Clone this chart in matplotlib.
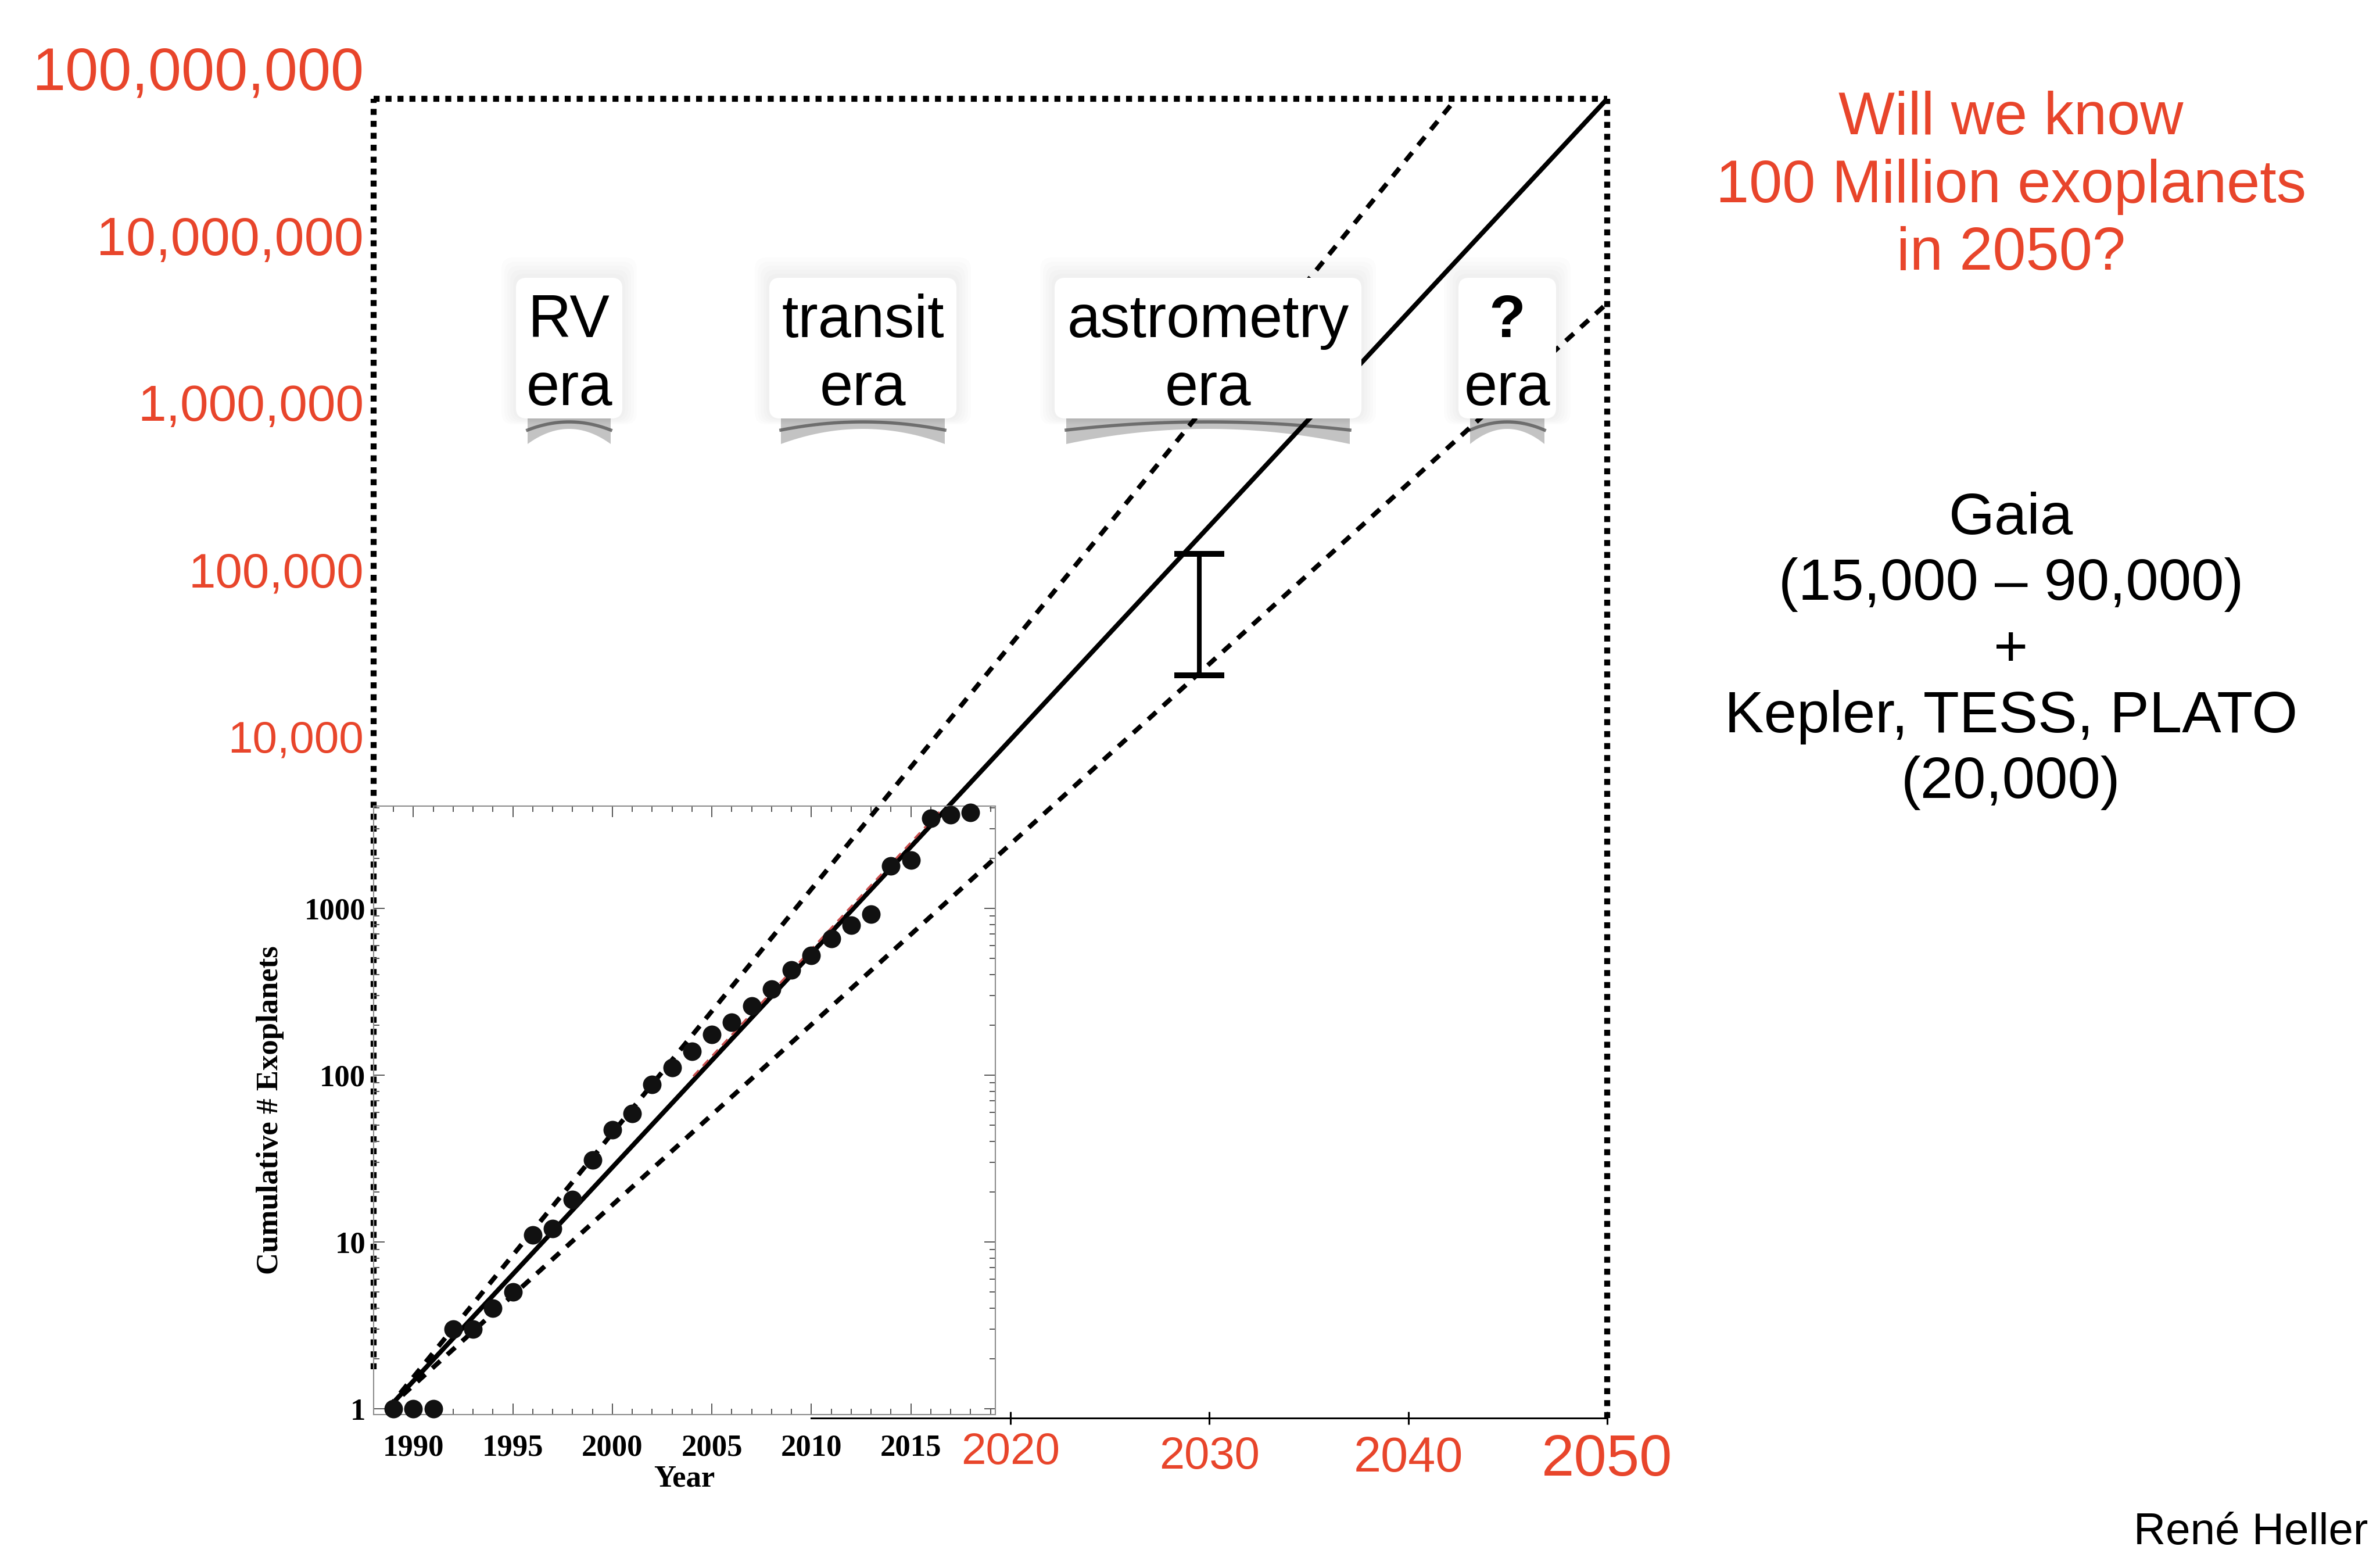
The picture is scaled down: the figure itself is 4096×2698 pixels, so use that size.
import numpy as np
import matplotlib
matplotlib.use("Agg")
import matplotlib.pyplot as plt
from matplotlib.patches import FancyBboxPatch, Polygon
from matplotlib.transforms import Affine2D, blended_transform_factory, Bbox, TransformedBbox
from matplotlib.ticker import FixedLocator, FixedFormatter, MultipleLocator, LogLocator, NullLocator, NullFormatter

# ---------------------------------------------------------------
# data
# ---------------------------------------------------------------
years = [1989, 1990, 1991, 1992, 1993, 1994, 1995, 1996, 1997, 1998,
         1999, 2000, 2001, 2002, 2003, 2004, 2005, 2006, 2007, 2008,
         2009, 2010, 2011, 2012, 2013, 2014, 2015, 2016, 2017, 2018]
counts = [1, 1, 1, 3, 3, 4, 5, 11, 12, 18,
          31, 47, 59, 88, 111, 139, 175, 207, 260, 328,
          426, 524, 657, 792, 923, 1800, 1950, 3460, 3630, 3750]

# trend lines (start / end points)
trend_years = [1988.7, 2050.0]
trend_mid = [1, 7.13e7]
trend_high_years = [1988.7, 2042.4]
trend_high = [1, 7.13e7]
trend_low = [1, 4.24e6]

# Gaia range marker
gaia_year = 2029.5
gaia_low = 25000
gaia_high = 133000

# main axis labels
y_label_values = [1e4, 1e5, 1e6, 1e7, 1e8]
y_label_texts = ["10,000", "100,000", "1,000,000", "10,000,000", "100,000,000"]
x_label_years = [2020, 2030, 2040, 2050]
x_label_texts = ["2020", "2030", "2040", "2050"]

# inset axis labels
inset_x_ticks = [1990, 1995, 2000, 2005, 2010, 2015]
inset_y_ticks = [1, 10, 100, 1000]
inset_y_texts = ["1", "10", "100", "1000"]

era_top = ["RV", "transit", "astrometry", "?"]
era_bottom = ["era", "era", "era", "era"]

title_text = "Will we know\n100 Million exoplanets\nin 2050?"
note_text = "Gaia\n(15,000 \u2013 90,000)\n+\nKepler, TESS, PLATO\n(20,000)"
author = "Ren\u00e9 Heller"

# ---------------------------------------------------------------
# layout / style
# ---------------------------------------------------------------
W, H = 4096, 2698
RED = "#e8452b"
SANS = "Liberation Sans"
SERIF = "Liberation Serif"

fig = plt.figure(figsize=(W / 100, H / 100), dpi=100)
fig.patch.set_facecolor("white")
pix = Affine2D().scale(1, -1).translate(0, H)   # top-down pixel coords

L, R, T, B = 643, 2766, 170, 2440
ax = fig.add_axes([L / W, 1 - B / H, (R - L) / W, (B - T) / H])
ax.set_yscale("log")
ax.set_xlim(1988, 2050)
ax.set_ylim(10 ** -0.0557, 7.13e7)
ax.set_facecolor("none")

for s in ["left", "top", "right"]:
    ax.spines[s].set_visible(False)
ax.spines["bottom"].set_bounds(2010, 2050)
ax.spines["bottom"].set_linewidth(2.2)
ax.set_xticks(x_label_years)
ax.set_xticklabels([])
ax.tick_params(axis="x", direction="inout", length=16, width=2.2)
ax.yaxis.set_major_locator(NullLocator())
ax.yaxis.set_minor_locator(NullLocator())

# dotted frame
dot = dict(color="black", lw=7.4, ls=(0, (1, 1)), dash_capstyle="butt",
           transform=ax.transAxes, clip_on=False, zorder=3)
ax.plot([0, 0], [0.037, 1], **dot)
ax.plot([0, 1], [1, 1], **dot)
ax.plot([1, 1], [0, 1], **dot)

# trends
ax.plot(trend_years, trend_mid, color="black", lw=5.8, solid_capstyle="butt",
        clip_on=False, zorder=3)
dash = dict(color="black", lw=5.8, ls=(0, (2.3, 2.0)), dash_capstyle="butt",
            clip_on=False, zorder=3)
ax.plot(trend_high_years, trend_high, **dash)
ax.plot(trend_years, trend_low, **dash)

# Gaia error bar
ax.errorbar([gaia_year], [gaia_high], yerr=[[gaia_high - gaia_low], [0]],
            fmt="none", ecolor="black", elinewidth=5.8, capsize=31,
            capthick=7.2, zorder=3)

# red axis labels
ysz = [55, 60, 63, 66, 74]
ytr = blended_transform_factory(pix, ax.transData)
for v, t, s in zip(y_label_values, y_label_texts, ysz):
    ax.text(626, v, t, transform=ytr, ha="right", va="center",
            color=RED, fontsize=s, family=SANS)

xsz = [55, 56, 61, 73]
xpos = [2500, 2507, 2510, 2513]
xtr = blended_transform_factory(ax.transData, pix)
for v, t, s, p in zip(x_label_years, x_label_texts, xsz, xpos):
    ax.text(v, p, t, transform=xtr, ha="center", va="center",
            color=RED, fontsize=s, family=SANS)

# era boxes
box_x = [(888, 1071), (1324, 1646), (1815, 2343), (2510, 2678)]
box_top, box_bot = 478, 720
for (xa, xb), t1, t2 in zip(box_x, era_top, era_bottom):
    for k in range(1, 6):
        ax.add_patch(FancyBboxPatch((xa - 5 * k, box_top - 7 * k), (xb - xa) + 10 * k,
                                    (box_bot - box_top) + 9 * k,
                                    boxstyle="round,pad=0,rounding_size=20",
                                    transform=pix, fc="black", ec="none", alpha=0.012,
                                    zorder=4, clip_on=False))
    ax.add_patch(FancyBboxPatch((xa, box_top), xb - xa, box_bot - box_top,
                                boxstyle="round,pad=0,rounding_size=18",
                                transform=pix, fc="white", ec="none",
                                zorder=5, clip_on=False))
    # curled shadow under the box
    tt = np.linspace(-1, 1, 80)
    xs = xa + 20 + (tt + 1) / 2 * (xb - xa - 40)
    low = box_bot + 18 + 26 * tt ** 2
    verts = np.r_[np.c_[xs, np.full_like(xs, box_bot)], np.c_[xs[::-1], low[::-1]]]
    ax.add_patch(Polygon(verts, closed=True, transform=pix, fc="#b4b4b4",
                         ec="none", alpha=0.8, zorder=2, clip_on=False))
    arc = box_bot + 6 + 14 * tt ** 2
    ax.plot(xs, arc, transform=pix, color="#5a5a5a", lw=4, alpha=0.8,
            zorder=2, clip_on=False)
    xc = (xa + xb) / 2
    ax.text(xc, 580, t1, transform=pix, ha="center", va="baseline", fontsize=74,
            family=SANS, fontweight="bold" if t1 == "?" else "normal", zorder=6)
    ax.text(xc, 697, t2, transform=pix, ha="center", va="baseline", fontsize=74,
            family=SANS, zorder=6)

# right-hand notes
ax.text(3461, 321, title_text, transform=pix, ha="center", va="center",
        color=RED, fontsize=74, family=SANS, linespacing=1.26)
ax.text(3461, 1120, note_text, transform=pix, ha="center", va="center",
        color="black", fontsize=73, family=SANS, linespacing=1.27)
ax.text(4075, 2638, author, transform=pix, ha="right", va="center",
        color="black", fontsize=55, family=SANS)

# ---------------------------------------------------------------
# inset (cumulative number of exoplanets)
# ---------------------------------------------------------------
in_xlim = (1988, 2019.25)
in_ylim = (10 ** -0.035, 10 ** 3.613)
x0, y0 = ax.transData.transform((in_xlim[0], in_ylim[0]))
x1, y1 = ax.transData.transform((in_xlim[1], in_ylim[1]))
ax_in = fig.add_axes([x0 / W, y0 / H, (x1 - x0) / W, (y1 - y0) / H])
ax_in.set_facecolor("none")
ax_in.set_yscale("log")
ax_in.set_xlim(*in_xlim)
ax_in.set_ylim(*in_ylim)
for s in ax_in.spines.values():
    s.set_color("#8c8c8c")
    s.set_linewidth(1.5)

ax_in.xaxis.set_major_locator(FixedLocator(inset_x_ticks))
ax_in.xaxis.set_minor_locator(MultipleLocator(1))
ax_in.yaxis.set_major_locator(FixedLocator(inset_y_ticks))
ax_in.yaxis.set_major_formatter(FixedFormatter(inset_y_texts))
ax_in.yaxis.set_minor_locator(LogLocator(base=10, subs=np.arange(2, 10)))
ax_in.yaxis.set_minor_formatter(NullFormatter())
ax_in.tick_params(which="both", direction="in", top=True, right=True,
                  color="#555555", width=1.4)
ax_in.tick_params(which="major", length=14)
ax_in.tick_params(which="minor", length=7)
ax_in.tick_params(axis="x", pad=24)
ax_in.tick_params(axis="y", pad=10)
for lab in ax_in.get_xticklabels() + ax_in.get_yticklabels():
    lab.set_family(SERIF)
    lab.set_fontweight("bold")
    lab.set_fontsize(38)

# faint red fit line beneath the solid trend
red_fit, = ax_in.plot(trend_years, trend_mid, color="#c85050", lw=2.5,
                      ls=(0, (4, 3)), zorder=2,
                      transform=matplotlib.transforms.offset_copy(
                          ax_in.transData, fig, x=-4, y=3, units="dots"))
red_fit.set_clip_box(TransformedBbox(Bbox([[2004, 1], [2016.6, 5000]]), ax_in.transData))

ax_in.plot(years, counts, "o", ms=23, color="#111111", mec="none",
           clip_on=False, zorder=4)

ax_in.text(-0.166, 0.5, "Cumulative # Exoplanets", transform=ax_in.transAxes,
           rotation=90, ha="center", va="center", family=SERIF,
           fontweight="bold", fontsize=38)
ax.text(1178, 2545, "Year", transform=pix, ha="center", va="center",
        family=SERIF, fontweight="bold", fontsize=38)

fig.savefig("out.png", dpi=100)
